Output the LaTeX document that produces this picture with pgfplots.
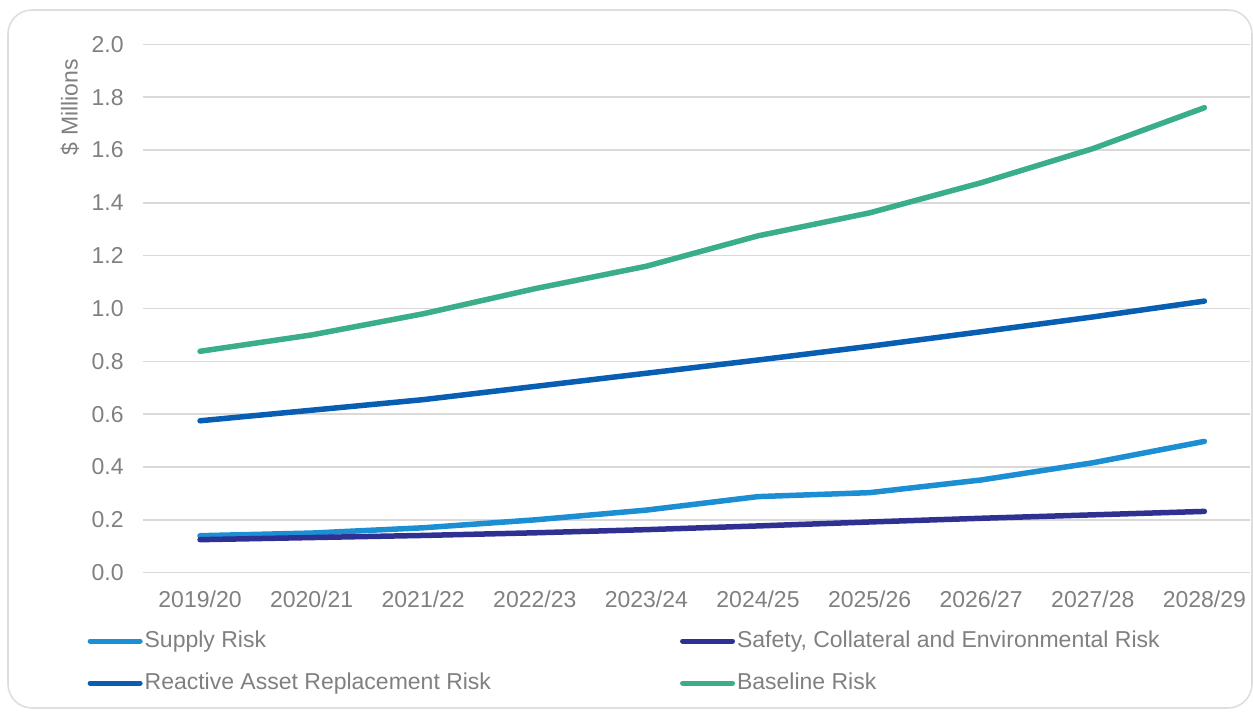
\documentclass[border=0pt]{standalone}
\usepackage{fontspec}
\setmainfont{Liberation Sans}
\usepackage{pgfplots}
\pgfplotsset{compat=1.18}
\definecolor{supplyc}{RGB}{28,142,211}
\definecolor{safetyc}{RGB}{46,49,146}
\definecolor{reactc}{RGB}{8,94,178}
\definecolor{basec}{RGB}{58,174,138}
\definecolor{gridc}{RGB}{217,217,217}
\definecolor{txtc}{RGB}{128,128,128}
\definecolor{framec}{RGB}{222,222,222}
\newcommand{\cf}{\fontsize{11.5pt}{13pt}\selectfont}
\begin{document}
\begin{tikzpicture}
\useasboundingbox (0,0) rectangle (626.5pt,356.5pt);
\draw[framec, line width=0.8pt, rounded corners=12pt] (4pt,2.5pt) rectangle (626pt,351.5pt);
\begin{axis}[
  at={(71.5pt,70.15pt)}, anchor=south west,
  scale only axis, width=553.5pt, height=264.2pt,
  xmin=-0.511, xmax=9.409, ymin=0, ymax=2,
  xtick={0,...,9},
  xticklabels={2019/20,2020/21,2021/22,2022/23,2023/24,2024/25,2025/26,2026/27,2027/28,2028/29},
  ytick={0,0.2,...,2.01},
  axis line style={draw=none},
  major tick length=0pt,
  ymajorgrids, xmajorgrids=false,
  major grid style={gridc, line width=0.75pt},
  /pgf/number format/assume math mode=true,
  yticklabel style={/pgf/number format/.cd, fixed, fixed zerofill, precision=1, /tikz/.cd, anchor=east, inner sep=0pt, xshift=-9.5pt, font=\cf, text=txtc},
  xticklabel style={anchor=north, inner sep=0pt, yshift=-9pt, font=\cf, text=txtc},
  ylabel={\$ Millions},
  ylabel style={at={(axis description cs:-0.066,0.881)}, anchor=center, font=\cf, text=txtc},
  legend columns=2,
  legend cell align=left,
  legend image code/.code={\draw[#1, line width=2.5pt, line cap=round] (0pt,0pt) -- (25pt,0pt);},
  legend style={at={(axis description cs:-0.0500,-0.1085)}, anchor=north west, draw=none, fill=none, inner sep=0pt, outer sep=0pt, font=\cf, text=txtc, row sep=10pt,
    nodes={inner xsep=1pt, inner ysep=0pt, text height=8.5pt, text depth=2.5pt},
    /tikz/every even column/.append style={column sep=93.5pt}},
  every axis plot/.append style={line width=2.75pt, line cap=round, line join=round},
]
\addplot[supplyc] coordinates {(0,0.140) (1,0.150) (2,0.170) (3,0.200) (4,0.237) (5,0.288) (6,0.303) (7,0.351) (8,0.416) (9,0.497)};
\addlegendentry{Supply Risk}
\addplot[safetyc] coordinates {(0,0.125) (1,0.133) (2,0.141) (3,0.151) (4,0.163) (5,0.177) (6,0.192) (7,0.206) (8,0.219) (9,0.232)};
\addlegendentry{Safety, Collateral and Environmental Risk}
\addplot[reactc] coordinates {(0,0.575) (1,0.615) (2,0.655) (3,0.705) (4,0.755) (5,0.805) (6,0.857) (7,0.912) (8,0.968) (9,1.028)};
\addlegendentry{Reactive Asset Replacement Risk}
\addplot[basec] coordinates {(0,0.838) (1,0.900) (2,0.980) (3,1.075) (4,1.160) (5,1.275) (6,1.362) (7,1.476) (8,1.605) (9,1.760)};
\addlegendentry{Baseline Risk}
\end{axis}
\end{tikzpicture}
\end{document}
